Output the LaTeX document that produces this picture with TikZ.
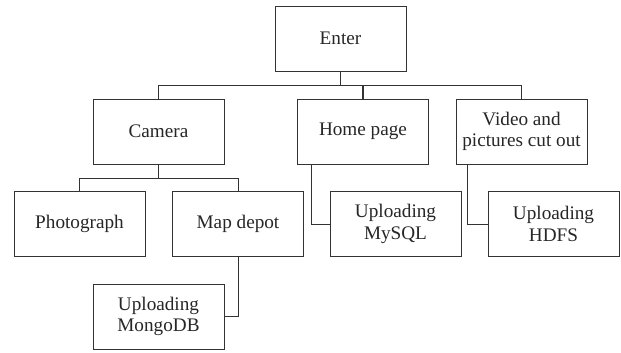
\documentclass[tikz,border=0pt]{standalone}
\usepackage{fontspec}
\setmainfont{Liberation Serif}
\usetikzlibrary{positioning}

\tikzset{
  box/.style={draw=black!80, line width=0.6pt, minimum width=98.25pt, minimum height=48.75pt,
    inner sep=0pt, align=center, text=black!85, font=\fontsize{14.4}{16.3}\selectfont},
  link/.style={draw=black!80, line width=0.6pt}
}

\begin{document}
\begin{tikzpicture}[x=0.75pt, y=-0.75pt]
    % Fix the canvas to the size of the reference
    \useasboundingbox (0,0) rectangle (621,353);

    % Top level
    \node[box] (enter) at (340.5,38.5) {Enter};

    % Second level
    \node[box] (camera) at (158.5,131.5) {Camera};
    \node[box] (home)   at (363,131.5) {Home page};
    \node[box] (video)  at (521.5,131.5) {Video and\\pictures cut out};

    % Third level
    \node[box] (photo)    at (79.5,224) {Photograph};
    \node[box] (mapdepot) at (238,224) {Map depot};
    \node[box] (mysql)    at (395.5,224) {Uploading\\MySQL};
    \node[box] (hdfs)     at (553.5,224) {Uploading\\HDFS};

    % Fourth level
    \node[box] (mongo) at (158.5,316.5) {Uploading\\MongoDB};

    % Branches from Enter
    \draw[link, line width=1pt] (enter.south) -- ++(0,14) -| (home.north);
    \draw[link] (enter.south) ++(0,14) -| (camera.north);
    \draw[link] (enter.south) ++(0,14) -| (video.north);

    % Branches from Camera
    \draw[link] (camera.south) -- ++(0,14) -| (photo.north);
    \draw[link] (camera.south) ++(0,14) -| (mapdepot.north);

    % Side links
    \draw[link] (mapdepot.south) |- (mongo.east);
    \draw[link] (home.south west) ++(14,0) |- (mysql.west);
    \draw[link] (video.south west) ++(12,0) |- (hdfs.west);
\end{tikzpicture}
\end{document}
